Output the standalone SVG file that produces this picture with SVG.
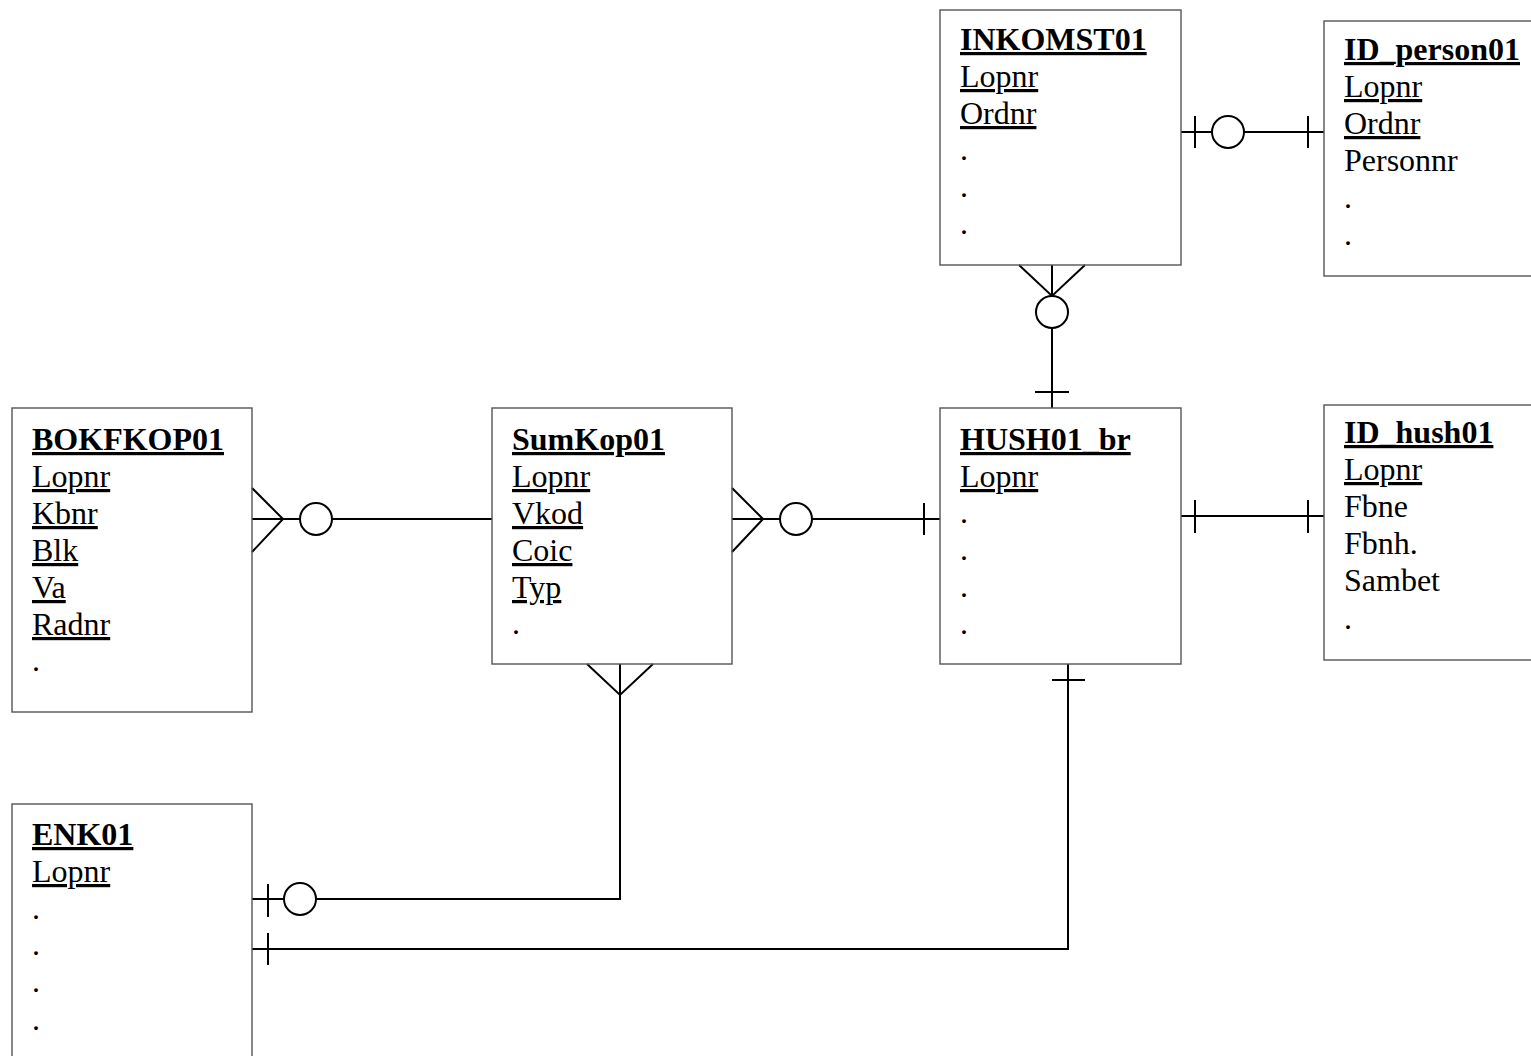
<svg xmlns="http://www.w3.org/2000/svg" width="1531" height="1056" viewBox="0 0 1531 1056">
<style>
.box{fill:#fff;stroke:#555;stroke-width:1.4}
text{font-family:"Liberation Serif","Times New Roman",serif;font-size:32px;fill:#000}
.t{font-weight:bold;text-decoration:underline;text-decoration-thickness:4px}
.k{text-decoration:underline}
.c{fill:none;stroke:#000;stroke-width:2}
.o{fill:#fff;stroke:#000;stroke-width:2}
</style>
<rect width="1531" height="1056" fill="#fff"/>
<g id="connectors">
<line class="c" x1="1181" y1="132" x2="1324" y2="132"/>
<line class="c" x1="1195" y1="116" x2="1195" y2="148"/>
<circle class="o" cx="1228" cy="132" r="16"/>
<line class="c" x1="1308" y1="116" x2="1308" y2="148"/>

<line class="c" x1="1052" y1="265" x2="1052" y2="408"/>
<path class="c" d="M1019,265 L1052,296 L1085,265"/>
<circle class="o" cx="1052" cy="312" r="16"/>
<line class="c" x1="1035" y1="392" x2="1069" y2="392"/>

<line class="c" x1="252" y1="519" x2="492" y2="519"/>
<path class="c" d="M252,488 L283,519 L252,552"/>
<circle class="o" cx="316" cy="519" r="16"/>

<line class="c" x1="732" y1="519" x2="940" y2="519"/>
<path class="c" d="M732,488 L763,519 L732,552"/>
<circle class="o" cx="796" cy="519" r="16"/>
<line class="c" x1="924" y1="503" x2="924" y2="535"/>

<line class="c" x1="1181" y1="516" x2="1324" y2="516"/>
<line class="c" x1="1195" y1="500" x2="1195" y2="533"/>
<line class="c" x1="1308" y1="500" x2="1308" y2="533"/>

<path class="c" d="M620,664 V899 H252"/>
<path class="c" d="M587,664 L620,695 L653,664"/>
<line class="c" x1="268" y1="884" x2="268" y2="917"/>
<circle class="o" cx="300" cy="899" r="16"/>

<path class="c" d="M1068,664 V949 H252"/>
<line class="c" x1="1052" y1="680" x2="1085" y2="680"/>
<line class="c" x1="268" y1="933" x2="268" y2="965"/>
</g>
<g id="INKOMST01">
<rect class="box" x="940" y="10" width="241" height="255" style="fill:none"/>
<text x="960" y="50" class="t">INKOMST01</text>
<text x="960" y="87" class="k">Lopnr</text>
<text x="960" y="124" class="k">Ordnr</text>
<text x="960" y="160">.</text>
<text x="960" y="197">.</text>
<text x="960" y="234">.</text>
</g>
<g id="ID_person01">
<rect class="box" x="1324" y="21" width="230" height="255" style="fill:none"/>
<text x="1344" y="60" class="t">ID_person01</text>
<text x="1344" y="97" class="k">Lopnr</text>
<text x="1344" y="134" class="k">Ordnr</text>
<text x="1344" y="171">Personnr</text>
<text x="1344" y="208">.</text>
<text x="1344" y="245">.</text>
</g>
<g id="BOKFKOP01">
<rect class="box" x="12" y="408" width="240" height="304" style="fill:none"/>
<text x="32" y="450" class="t">BOKFKOP01</text>
<text x="32" y="487" class="k">Lopnr</text>
<text x="32" y="524" class="k">Kbnr</text>
<text x="32" y="561" class="k">Blk</text>
<text x="32" y="598" class="k">Va</text>
<text x="32" y="635" class="k">Radnr</text>
<text x="32" y="671">.</text>
</g>
<g id="SumKop01">
<rect class="box" x="492" y="408" width="240" height="256" style="fill:none"/>
<text x="512" y="450" class="t">SumKop01</text>
<text x="512" y="487" class="k">Lopnr</text>
<text x="512" y="524" class="k">Vkod</text>
<text x="512" y="561" class="k">Coic</text>
<text x="512" y="598" class="k">Typ</text>
<text x="512" y="634">.</text>
</g>
<g id="HUSH01_br">
<rect class="box" x="940" y="408" width="241" height="256" style="fill:none"/>
<text x="960" y="450" class="t">HUSH01_br</text>
<text x="960" y="487" class="k">Lopnr</text>
<text x="960" y="523">.</text>
<text x="960" y="560">.</text>
<text x="960" y="597">.</text>
<text x="960" y="634">.</text>
</g>
<g id="ID_hush01">
<rect class="box" x="1324" y="405" width="230" height="255" style="fill:none"/>
<text x="1344" y="443" class="t">ID_hush01</text>
<text x="1344" y="480" class="k">Lopnr</text>
<text x="1344" y="517">Fbne</text>
<text x="1344" y="554">Fbnh.</text>
<text x="1344" y="591">Sambet</text>
<text x="1344" y="629">.</text>
</g>
<g id="ENK01">
<rect class="box" x="12" y="804" width="240" height="280" style="fill:none"/>
<text x="32" y="845" class="t">ENK01</text>
<text x="32" y="882" class="k">Lopnr</text>
<text x="32" y="919">.</text>
<text x="32" y="955">.</text>
<text x="32" y="992">.</text>
<text x="32" y="1030">.</text>
</g>
</svg>
